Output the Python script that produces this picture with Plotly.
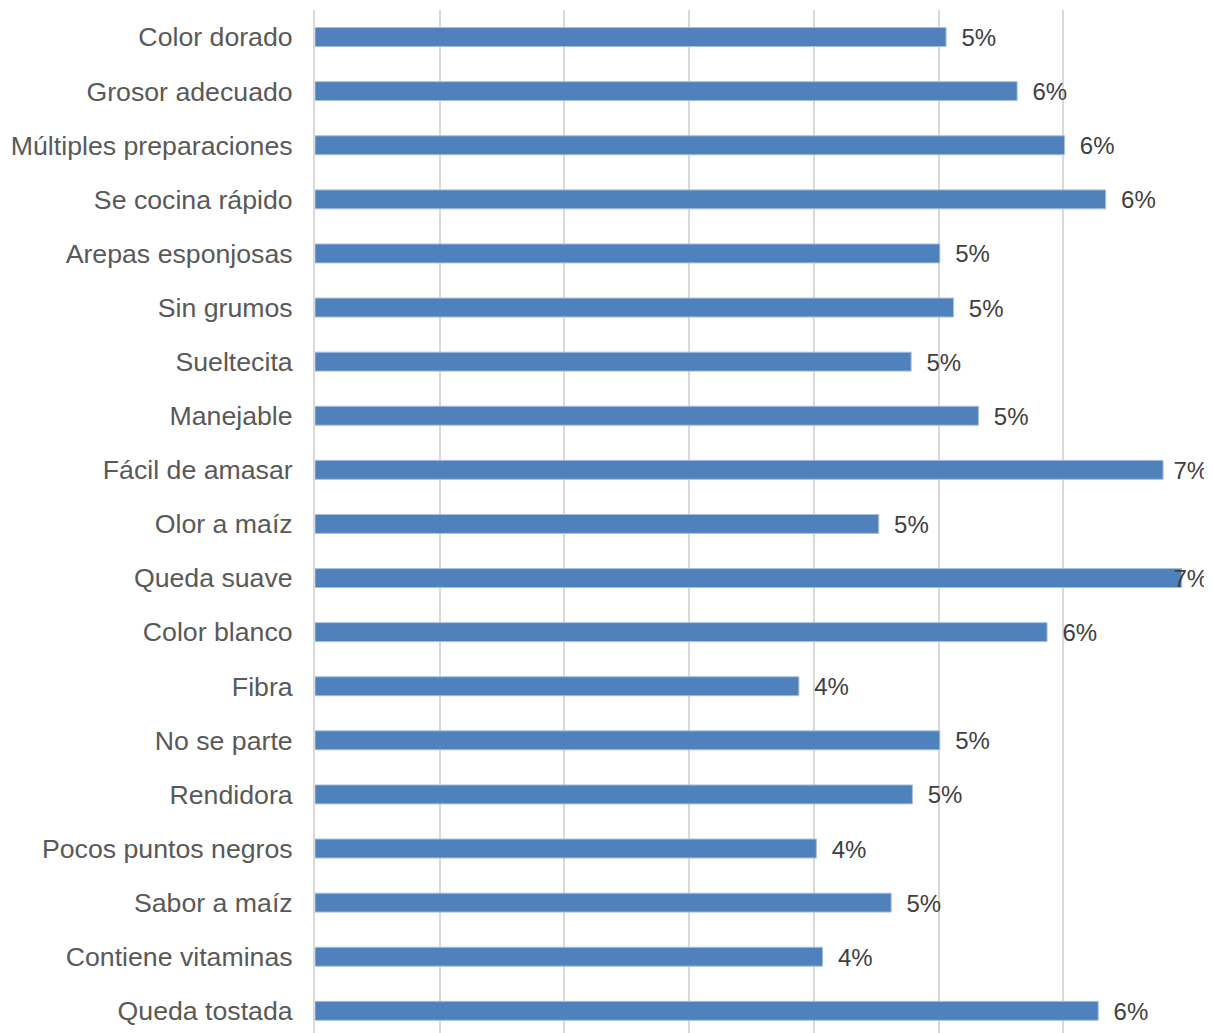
import plotly.graph_objects as go

categories = [
    "Color dorado", "Grosor adecuado", "Múltiples preparaciones", "Se cocina rápido",
    "Arepas esponjosas", "Sin grumos", "Sueltecita", "Manejable", "Fácil de amasar",
    "Olor a maíz", "Queda suave", "Color blanco", "Fibra", "No se parte", "Rendidora",
    "Pocos puntos negros", "Sabor a maíz", "Contiene vitaminas", "Queda tostada",
]
values = [
    5.06, 5.63, 6.01, 6.34, 5.01, 5.12, 4.78, 5.32, 6.80, 4.52,
    6.95, 5.87, 3.88, 5.01, 4.79, 4.02, 4.62, 4.07, 6.28,
]
labels = ["5%", "6%", "6%", "6%", "5%", "5%", "5%", "5%", "7%", "5%",
          "7%", "6%", "4%", "5%", "5%", "4%", "5%", "4%", "6%"]

# labels are kept inside the chart's right edge (as the original does)
LABEL_CAP = 6.76
label_x = [min(v, LABEL_CAP) for v in values]

fig = go.Figure()
fig.add_trace(go.Bar(
    y=categories,
    x=values,
    orientation="h",
    marker=dict(color="#4f81bd", line=dict(color="#a7bfdf", width=1)),
    cliponaxis=False,
    hoverinfo="skip",
))
fig.add_trace(go.Scatter(
    y=categories,
    x=label_x,
    yaxis="y2",
    mode="text",
    text=["\u00a0\u00a0\u200a" + t for t in labels],
    textposition="middle right",
    textfont=dict(family="Liberation Sans, Arial, sans-serif", size=24, color="#404040"),
    cliponaxis=False,
    hoverinfo="skip",
))

n = len(categories)
top_edge, bottom_edge = -0.5, n - 1 + 0.41
label_shift = 0.055  # nudges the label row down a few pixels
# page body has an 8px margin: figure is offset by 8px on the page
fig.update_layout(
    width=1204,
    height=1025,
    margin=dict(l=307, r=24, t=2, b=0, autoexpand=False),
    paper_bgcolor="white",
    plot_bgcolor="white",
    bargap=0.65,
    showlegend=False,
    font=dict(family="Liberation Sans, Arial, sans-serif"),
    yaxis2=dict(
        overlaying="y",
        type="category",
        categoryorder="array",
        categoryarray=categories,
        range=[bottom_edge - label_shift, top_edge - label_shift],
        visible=False,
        fixedrange=True,
    ),
)
fig.update_xaxes(
    range=[0, 7],
    dtick=1,
    showgrid=True,
    gridcolor="#d9d9d9",
    gridwidth=2,
    showticklabels=False,
    zeroline=False,
    showline=False,
    fixedrange=True,
    automargin=False,
)
fig.layout.yaxis.update(
    type="category",
    categoryorder="array",
    categoryarray=categories,
    range=[bottom_edge, top_edge],
    showline=True,
    linecolor="#d9d9d9",
    linewidth=2,
    ticks="",
    ticklabelstandoff=15,
    tickfont=dict(family="Liberation Sans, Arial, sans-serif", size=26.7, color="#595959"),
    showgrid=False,
    fixedrange=True,
    automargin=False,
)

fig.write_html("out.html")
